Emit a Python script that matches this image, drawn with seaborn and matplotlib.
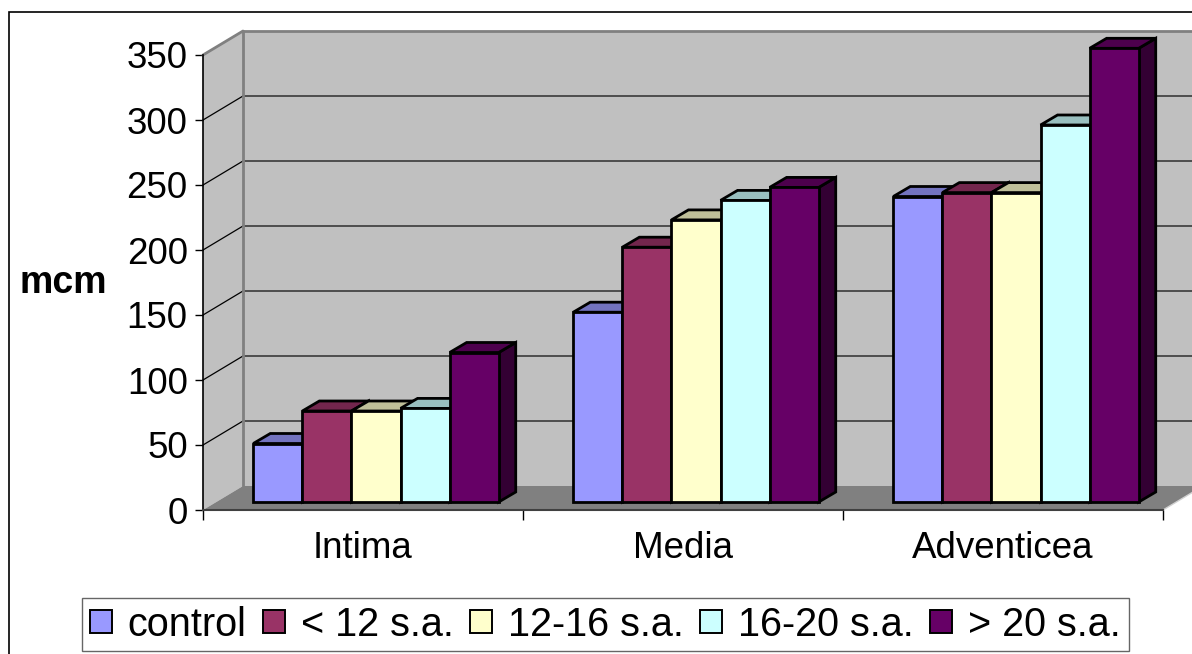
import numpy as np
import pandas as pd
import matplotlib
matplotlib.use("Agg")
import matplotlib.pyplot as plt
from matplotlib.patches import Polygon, Patch, Rectangle
from matplotlib.transforms import ScaledTranslation
import seaborn as sns

# Wall thickness measurements (mcm) by gestational age group
layers = ["Intima", "Media", "Adventicea"]
groups = ["control", "< 12 s.a.", "12-16 s.a.", "16-20 s.a.", "> 20 s.a."]
control = [45, 146, 235]
lt12 = [70, 196, 238]
g12_16 = [70, 217, 238]
g16_20 = [72, 232, 290]
gt20 = [115, 242, 349]
yticks = [0, 50, 100, 150, 200, 250, 300, 350]

colors = ["#9999FF", "#993366", "#FFFFCC", "#CCFFFF", "#660066"]

series = [control, lt12, g12_16, g16_20, gt20]
df = pd.DataFrame(
    [(layer, g, vals[i]) for g, vals in zip(groups, series) for i, layer in enumerate(layers)],
    columns=["layer", "group", "value"],
)

sns.set_theme(style="white")
plt.rcParams["font.family"] = ["Liberation Sans", "DejaVu Sans"]
plt.rcParams["text.color"] = "black"
plt.rcParams["xtick.color"] = "black"
plt.rcParams["ytick.color"] = "black"
plt.rcParams["xtick.labelcolor"] = "black"
plt.rcParams["ytick.labelcolor"] = "black"

W, H, DPI = 1192, 654, 100
fig = plt.figure(figsize=(W / DPI, H / DPI), dpi=DPI)
fig.patch.set_facecolor("white")

# front plane of the 3-D box, in pixel units
x_left, x_right, y_base, y_top = 203, 1163, 510, 55
ax = fig.add_axes([x_left / W, (H - y_base) / H, (x_right - x_left) / W, (y_base - y_top) / H])
ax.set_xlim(-0.5, 2.5)
ax.set_ylim(0, 350)
ax.patch.set_visible(False)

# depth offsets in pixels (right, up)
WALL = (40, 24)
BAR_FRONT = (13, 8)
BAR_BACK = (30, 18)


def shift(x, y, off):
    px, py = ax.transData.transform((x, y))
    return ax.transData.inverted().transform((px + off[0], py + off[1]))


def poly(pts, **kw):
    p = Polygon(pts, closed=True, clip_on=False, **kw)
    ax.add_patch(p)
    return p


wall_c, floor_c, edge_c = "#C0C0C0", "#808080", "#808080"
x_far = 3.0

# back wall
poly([shift(-0.5, 0, WALL), shift(x_far, 0, WALL), shift(x_far, 350, WALL), shift(-0.5, 350, WALL)],
     facecolor=wall_c, edgecolor="none", zorder=0.5)
# side wall
poly([(-0.5, 0), shift(-0.5, 0, WALL), shift(-0.5, 350, WALL), (-0.5, 350)],
     facecolor=wall_c, edgecolor="none", zorder=0.5)
# floor
poly([(-0.5, 0), (2.5, 0), shift(2.5, 0, WALL), shift(-0.5, 0, WALL)],
     facecolor=floor_c, edgecolor="none", zorder=1)
ax.plot(*zip((2.5, 0), shift(2.5, 0, WALL)), color="#D0D0D0", lw=1, clip_on=False, zorder=1.1)

# gridlines on back and side walls
for v in yticks[1:-1]:
    a, b = shift(-0.5, v, WALL), shift(x_far, v, WALL)
    ax.plot([a[0], b[0]], [a[1], b[1]], color="#3a3a3a", lw=1.2, clip_on=False, zorder=1.5)
    ax.plot([-0.5, a[0]], [v, a[1]], color="black", lw=0.9, clip_on=False, zorder=1.5)

# wall border lines
c0, c1, c2 = shift(-0.5, 0, WALL), shift(-0.5, 350, WALL), shift(x_far, 350, WALL)
ax.plot([c0[0], c1[0]], [c0[1], c1[1]], color=edge_c, lw=2, clip_on=False, zorder=1.6)
ax.plot([c1[0], c2[0]], [c1[1], c2[1]], color=edge_c, lw=2, clip_on=False, zorder=1.6)
ax.plot([-0.5, c1[0]], [350, c1[1]], color=edge_c, lw=2, clip_on=False, zorder=1.6)

# front faces of the bars
EDGE_LW = 2.0
sns.barplot(data=df, x="layer", y="value", hue="group", order=layers, hue_order=groups,
            palette=colors, width=0.767, saturation=1, edgecolor="black", linewidth=EDGE_LW,
            legend=False, ax=ax)
ax.set_xlim(-0.5, 2.5)
ax.set_ylim(0, 350)

offset = ScaledTranslation(BAR_FRONT[0] / DPI, BAR_FRONT[1] / DPI, fig.dpi_scale_trans)
bars = sorted([p for p in ax.patches if isinstance(p, Rectangle) and p.get_height() > 0],
              key=lambda p: p.get_x())


def shade(c, f):
    r, g, b = matplotlib.colors.to_rgb(c)
    return (r * f, g * f, b * f)


for i, bar in enumerate(bars):
    x0, w, h = bar.get_x(), bar.get_width(), bar.get_height()
    fc = bar.get_facecolor()
    bar.set_transform(ax.transData + offset)
    bar.set_clip_on(False)
    bar.set_joinstyle("miter")
    base = 3 + 3 * i
    bar.set_zorder(base + 2)
    poly([shift(x0, h, BAR_FRONT), shift(x0 + w, h, BAR_FRONT), shift(x0 + w, h, BAR_BACK), shift(x0, h, BAR_BACK)],
         facecolor=shade(fc, 0.75), edgecolor="black", lw=EDGE_LW, joinstyle="miter", zorder=base + 1)
    poly([shift(x0 + w, 0, BAR_FRONT), shift(x0 + w, h, BAR_FRONT), shift(x0 + w, h, BAR_BACK), shift(x0 + w, 0, BAR_BACK)],
         facecolor=shade(fc, 0.5), edgecolor="black", lw=EDGE_LW, joinstyle="miter", zorder=base)

# axes styling
for s in ["top", "right"]:
    ax.spines[s].set_visible(False)
ax.spines["left"].set_color("black")
ax.spines["left"].set_linewidth(1.2)
ax.spines["bottom"].set_color("#404040")
ax.spines["bottom"].set_linewidth(1.5)
ax.spines["left"].set_zorder(2)
ax.spines["bottom"].set_zorder(2)

FS = 26.5
ax.set_yticks(yticks)
ax.set_yticklabels([str(v) for v in yticks])
ax.tick_params(axis="y", direction="out", length=6, width=1, color="black", pad=5,
               labelsize=FS, left=True, labelcolor="black")
ax.set_xticks(range(len(layers)))
ax.set_xticklabels(layers)
ax.tick_params(axis="x", which="major", length=0, pad=15, labelsize=FS, labelcolor="black")
ax.set_xticks([-0.5, 0.5, 1.5, 2.5], minor=True)
ax.tick_params(axis="x", which="minor", direction="out", length=7, width=1, color="black", bottom=True)
ax.set_xlabel("")
ax.set_ylabel("")

fig.text(63 / W, (H - 283) / H, "mcm", fontsize=27, fontweight="bold", ha="center", va="center",
         color="black")

# chart border
fig.add_artist(Rectangle((9 / W, -0.05), 1.1, (H - 12) / H + 0.05, transform=fig.transFigure,
                         facecolor="none", edgecolor="black", lw=1.2))

handles = [Patch(facecolor=c, edgecolor="black", lw=1.4) for c in colors]
leg = fig.legend(handles, groups, loc="center", bbox_to_anchor=(605.5 / W, (H - 624.5) / H),
                 ncol=5, fontsize=28.5, frameon=True, fancybox=False, handlelength=0.55,
                 handleheight=0.55, handletextpad=0.4, columnspacing=0.42, borderpad=0.2,
                 borderaxespad=0)
leg.get_frame().set_edgecolor("#404040")
leg.get_frame().set_linewidth(1)
for t in leg.get_texts():
    t.set_color("black")

fig.savefig("out.png", dpi=DPI)
